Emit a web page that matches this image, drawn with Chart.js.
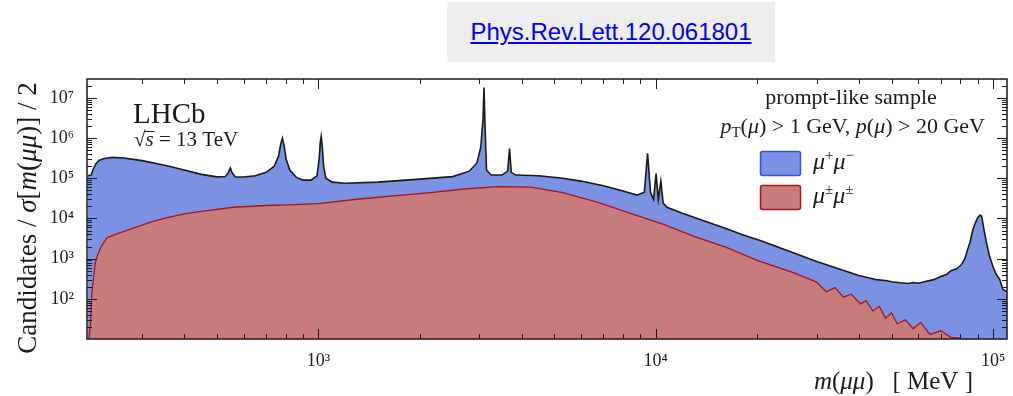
<!DOCTYPE html>
<html>
<head>
<meta charset="utf-8">
<title>Dimuon mass spectrum</title>
<script src="https://cdn.jsdelivr.net/npm/chart.js@4.4.0/dist/chart.umd.min.js"></script>
<style>
  html, body { margin: 0; padding: 0; background: #fff; }
  #wrap { position: relative; width: 1013px; height: 396px; }
  #ref {
    position: absolute; left: 447px; top: 2px; width: 328px; height: 60px;
    background: #eeeeee; display: flex; align-items: center; justify-content: center;
  }
  #ref a { font: 24px "Liberation Sans", Arial, sans-serif; color: #0000ee; text-decoration: underline; }
  canvas { position: absolute; left: 0; top: 0; }
</style>
</head>
<body>
<div id="wrap">
  <canvas id="massSpectrum" width="1013" height="396"></canvas>
  <div id="ref"><a href="#">Phys.Rev.Lett.120.061801</a></div>
</div>
<script>
// m(mu mu) in MeV and candidates per sigma/2 for the two charge combinations
const massOS = [207, 212, 215, 219, 224, 232, 245, 265, 300, 350, 400, 450, 500, 530, 541, 548, 555, 568,
  600, 650, 700, 740, 762, 774, 782, 791, 802, 822, 860, 900, 950, 990, 1005, 1013, 1019, 1026, 1036, 1052,
  1100, 1200, 1500, 2000, 2500, 2800, 2950, 3030, 3075, 3097, 3118, 3150, 3250, 3500, 3640, 3686, 3730, 3850,
  4500, 5300, 6000, 7000, 8000, 8800, 9250, 9460, 9650, 9850, 10023, 10180, 10355, 10520, 10800,
  12000, 14000, 16000, 18000, 20500, 25000, 30000, 35000, 40000, 43000, 45000, 48000, 50000, 53000, 56000,
  58000, 60000, 63000, 66700, 70000, 73000, 75000, 78000, 80500, 82500, 84000, 85500, 87000, 88500, 90000,
  91500, 92500, 93300, 94500, 95700, 97500, 100000, 102000, 104700, 107000, 110000];
const countsOS = [1.15e5, 1.2e5, 1.7e5, 2.3e5, 2.8e5, 3.1e5, 3.3e5, 3.2e5, 2.75e5, 2.1e5, 1.6e5, 1.25e5, 1.08e5, 1.1e5, 1.4e5, 1.8e5, 1.35e5, 1.08e5,
  1.07e5, 1.15e5, 1.4e5, 2.0e5, 3.6e5, 7.5e5, 1.0e6, 6.5e5, 3.0e5, 1.6e5, 1.05e5, 9.0e4, 9.0e4, 1.15e5, 3.0e5, 8.0e5, 1.1e6, 6.5e5, 2.0e5, 1.0e5,
  8.0e4, 7.5e4, 8.0e4, 9.5e4, 1.1e5, 1.5e5, 2.4e5, 6.0e5, 3.0e6, 1.8e7, 2.0e6, 1.6e5, 1.2e5, 1.2e5, 1.5e5, 5.5e5, 1.4e5, 1.2e5,
  1.15e5, 1.0e5, 8.5e4, 6.5e4, 4.8e4, 3.8e4, 4.5e4, 4.2e5, 4.5e4, 3.0e4, 1.3e5, 3.0e4, 8.5e4, 2.4e4, 1.9e4,
  1.35e4, 8500, 5800, 4000, 2800, 1500, 850, 550, 380, 330, 300, 285, 265, 250, 240,
  255, 245, 270, 300, 360, 410, 500, 560, 700, 1000, 1650, 2600, 5000, 7500, 1.05e4,
  1.2e4, 1.15e4, 7500, 4200, 2400, 1200, 630, 420, 300, 170, 150];

const massSS = [209, 211, 213, 216, 218, 221, 227, 236, 250, 264, 280, 320, 356, 400, 450, 560, 700, 850, 1000, 1300,
  1700, 2150, 2700, 3400, 4260, 5300, 6740, 8500, 10600, 13000, 16200, 20000, 25700, 30000, 32000, 34000, 36000, 38000,
  40500, 42000, 44000, 46000, 48000, 50000, 52000, 55000, 58000, 61000, 65000, 70000, 75000, 80000];
const countsSS = [10.5, 25, 140, 400, 800, 1200, 2000, 3300, 4000, 4700, 5600, 8200, 1.05e4, 1.3e4, 1.5e4, 1.9e4, 2.1e4, 2.2e4, 2.35e4, 3.0e4,
  3.7e4, 4.4e4, 5.4e4, 6.2e4, 6.0e4, 4.4e4, 2.5e4, 1.3e4, 7000, 3600, 1900, 900, 440, 260, 150, 190, 110, 130,
  75, 90, 50, 65, 33, 45, 24, 30, 18, 26, 13, 16, 11, 10.5];

const xRange = [206, 110000];
const yRange = [10, 2.95e7];
const xDecades = [2, 3, 4, 5];
const yDecades = [1, 2, 3, 4, 5, 6, 7];

const SERIF = '"Liberation Serif", "DejaVu Serif", serif';
const COLORS = {
  ink: "#1a1a1a",
  blueFill: "rgb(124,146,226)",
  blueEdge: "#3656cf",
  redFill: "rgb(201,124,124)",
  redEdge: "#a3161c",
};

const SUP = { "0": "\u2070", "1": "\u00b9", "2": "\u00b2", "3": "\u00b3", "4": "\u2074",
  "5": "\u2075", "6": "\u2076", "7": "\u2077", "8": "\u2078", "9": "\u2079" };

function toPoints(xs, ys) {
  return xs.map((x, i) => ({ x: x, y: ys[i] }));
}

// only label whole decades: 10^3, 10^4 ...
function decadeLabel(minExp) {
  return function (value) {
    const e = Math.log10(value);
    if (Math.abs(e - Math.round(e)) > 1e-9 || Math.round(e) < minExp) return "";
    return "10" + String(Math.round(e)).split("").map(d => SUP[d]).join("");
  };
}

// draw a run of text pieces with their own fonts and vertical offsets
function richText(ctx, parts, x, y, align) {
  let total = 0;
  parts.forEach(p => {
    ctx.font = p.font;
    p.w = ctx.measureText(p.text).width + (p.gap || 0);
    total += p.w;
  });
  let cx = align === "center" ? x - total / 2 : align === "right" ? x - total : x;
  parts.forEach(p => {
    ctx.font = p.font;
    ctx.fillText(p.text, cx, y + (p.dy || 0));
    cx += p.w;
  });
  return total;
}

const up = size => size + "px " + SERIF;
const it = size => "italic " + size + "px " + SERIF;

const frameAndLabels = {
  id: "frameAndLabels",
  afterDraw(chart) {
    const { ctx, chartArea: a, scales } = chart;
    const xs = scales.x, ys = scales.y;
    ctx.save();
    ctx.strokeStyle = COLORS.ink;
    ctx.fillStyle = COLORS.ink;

    // inward ticks on all four sides
    ctx.lineWidth = 1;
    ctx.beginPath();
    xDecades.forEach(n => {
      for (let k = 1; k <= 9; k++) {
        const v = k * Math.pow(10, n);
        if (v <= xRange[0] || v >= xRange[1]) continue;
        const px = Math.round(xs.getPixelForValue(v)) + 0.5;
        const len = k === 1 ? 10 : 5;
        ctx.moveTo(px, a.bottom); ctx.lineTo(px, a.bottom - len);
        ctx.moveTo(px, a.top); ctx.lineTo(px, a.top + len);
      }
    });
    yDecades.forEach(n => {
      for (let k = 1; k <= 9; k++) {
        const v = k * Math.pow(10, n);
        if (v <= yRange[0] || v >= yRange[1]) continue;
        const py = Math.round(ys.getPixelForValue(v)) + 0.5;
        const len = k === 1 ? 10 : 5;
        ctx.moveTo(a.left, py); ctx.lineTo(a.left + len, py);
        ctx.moveTo(a.right, py); ctx.lineTo(a.right - len, py);
      }
    });
    ctx.stroke();

    ctx.lineWidth = 1.5;
    ctx.strokeRect(a.left, a.top, a.right - a.left, a.bottom - a.top);

    // experiment label
    ctx.textBaseline = "alphabetic";
    richText(ctx, [{ text: "LHCb", font: up(29) }], 133, 123, "left");
    richText(ctx, [
      { text: "\u221a", font: up(21) },
      { text: "s", font: it(21) },
      { text: " = 13 TeV", font: up(21) },
    ], 134, 146, "left");
    ctx.font = up(21);
    const rootW = ctx.measureText("\u221a").width;
    ctx.lineWidth = 1;
    ctx.beginPath();
    ctx.moveTo(134 + rootW - 1, 131.5);
    ctx.lineTo(134 + rootW + 9, 131.5);
    ctx.stroke();

    // selection text
    richText(ctx, [{ text: "prompt-like sample", font: up(22) }], 851, 104, "center");
    richText(ctx, [
      { text: "p", font: it(22) },
      { text: "T", font: up(15), dy: 4 },
      { text: "(", font: up(22) },
      { text: "\u03bc", font: it(22) },
      { text: ") > 1 GeV, ", font: up(22) },
      { text: "p", font: it(22) },
      { text: "(", font: up(22) },
      { text: "\u03bc", font: it(22) },
      { text: ") > 20 GeV", font: up(22) },
    ], 985, 133, "right");

    // legend
    const entries = [
      { fill: COLORS.blueFill, edge: COLORS.blueEdge, top: 151, sup: ["+", "\u2212"] },
      { fill: COLORS.redFill, edge: COLORS.redEdge, top: 185, sup: ["\u00b1", "\u00b1"] },
    ];
    entries.forEach(e => {
      ctx.fillStyle = e.fill;
      ctx.strokeStyle = e.edge;
      ctx.lineWidth = 1.5;
      ctx.beginPath();
      ctx.roundRect(760.5, e.top + 0.5, 40, 24, 2);
      ctx.fill();
      ctx.stroke();
      ctx.fillStyle = COLORS.ink;
      richText(ctx, [
        { text: "\u03bc", font: it(24) },
        { text: e.sup[0], font: up(15), dy: -9 },
        { text: "\u03bc", font: it(24) },
        { text: e.sup[1], font: up(15), dy: -9 },
      ], 813, e.top + 18, "left");
    });

    // axis titles
    richText(ctx, [
      { text: "m", font: it(25) },
      { text: "(", font: up(25) },
      { text: "\u03bc\u03bc", font: it(25) },
      { text: ")   [ MeV ]", font: up(25) },
    ], 973, 389, "right");

    ctx.translate(36, 218);
    ctx.rotate(-Math.PI / 2);
    richText(ctx, [
      { text: "Candidates / ", font: up(27) },
      { text: "\u03c3", font: it(27) },
      { text: "[", font: up(27) },
      { text: "m", font: it(27) },
      { text: "(", font: up(27) },
      { text: "\u03bc\u03bc", font: it(27) },
      { text: ")] / 2", font: up(27) },
    ], 0, 0, "center");
    ctx.restore();
  }
};

const tickFont = { family: SERIF, size: 18 };

new Chart(document.getElementById("massSpectrum"), {
  type: "line",
  data: {
    datasets: [
      {
        label: "\u03bc\u00b1\u03bc\u00b1",
        data: toPoints(massSS, countsSS),
        borderColor: COLORS.redEdge,
        borderWidth: 1.3,
        backgroundColor: COLORS.redFill,
        fill: "start",
        pointRadius: 0,
        tension: 0,
        order: 0,
      },
      {
        label: "\u03bc+\u03bc\u2212",
        data: toPoints(massOS, countsOS),
        borderColor: COLORS.ink,
        borderWidth: 1.6,
        backgroundColor: COLORS.blueFill,
        fill: "start",
        pointRadius: 0,
        tension: 0,
        order: 1,
      },
    ],
  },
  options: {
    responsive: false,
    animation: false,
    layout: { padding: { top: 79, right: 6, left: 0, bottom: 0 } },
    plugins: { legend: { display: false }, tooltip: { enabled: false } },
    scales: {
      x: {
        type: "logarithmic",
        min: xRange[0],
        max: xRange[1],
        grid: { display: false, drawTicks: false },
        border: { display: false },
        ticks: { autoSkip: false, maxRotation: 0, padding: 11, color: COLORS.ink, font: tickFont, callback: decadeLabel(3) },
        afterFit(scale) {
          scale.height = 57;
          scale.paddingLeft = 0;
          scale.paddingRight = 0;
        },
      },
      y: {
        type: "logarithmic",
        min: yRange[0],
        max: yRange[1],
        grid: { display: false, drawTicks: false },
        border: { display: false },
        ticks: { autoSkip: false, padding: 13, color: COLORS.ink, font: tickFont, callback: decadeLabel(2) },
        afterFit(scale) {
          scale.width = 87;
          scale.paddingTop = 0;
          scale.paddingBottom = 0;
        },
      },
    },
  },
  plugins: [frameAndLabels],
});
</script>
</body>
</html>
